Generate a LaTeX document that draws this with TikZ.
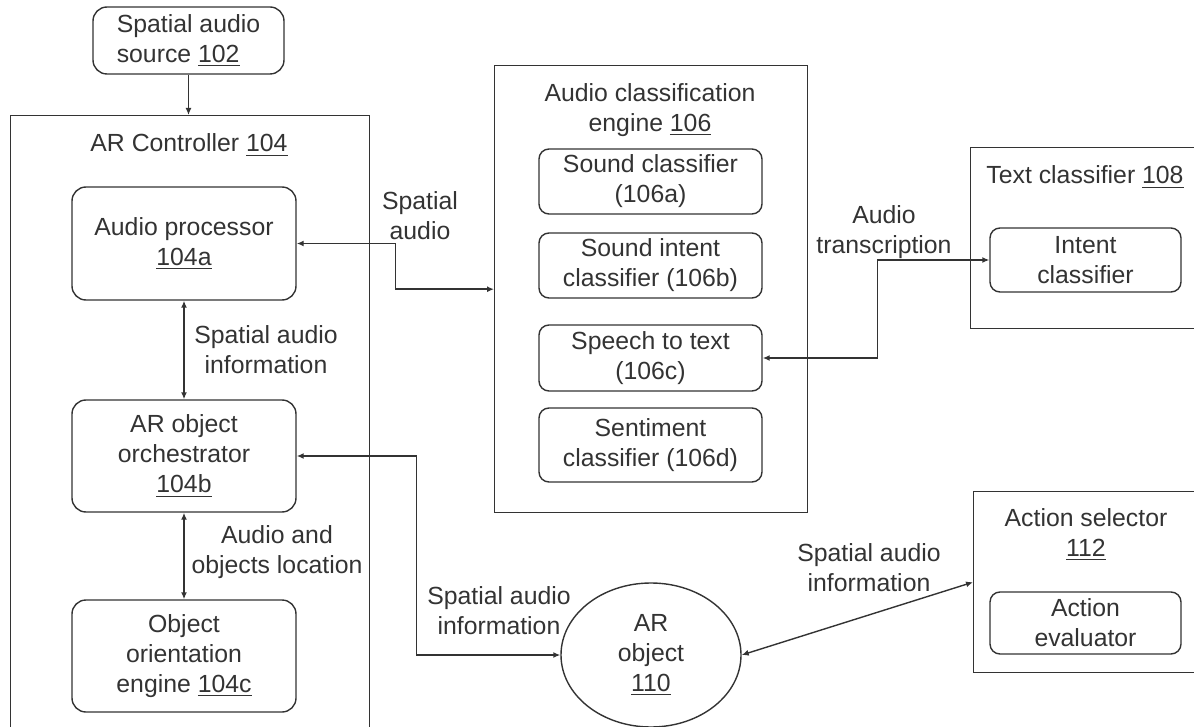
\documentclass[tikz,border=0pt]{standalone}
\usepackage{fontspec}
\setmainfont{Liberation Sans}
\usetikzlibrary{arrows.meta, shapes.geometric, positioning}

\newcommand{\refno}[1]{\underline{#1}}

\begin{document}
\begin{tikzpicture}[x=0.5pt, y=-0.5pt, line width=0.7pt,
  font=\fontsize{12.4}{15}\selectfont, text=black!80,
  block/.style={draw=black!80, rounded corners=7pt, align=center, inner sep=0pt},
  frame/.style={draw=black!80, inner sep=0pt, anchor=north west},
  lbl/.style={align=center, inner sep=0pt},
  link/.style={draw=black!80, {Latex[length=3.5pt,width=3pt]}-{Latex[length=3.5pt,width=3pt]}},
  feed/.style={draw=black!80, -{Latex[length=3.5pt,width=3pt]}}]

  \useasboundingbox (0,0) rectangle (1194,727);
  \clip (0,0) rectangle (1194,727);

  % Source
  \node[block, minimum width=95.5pt, minimum height=33.5pt, align=left] (src) at (188.5,40.5) {Spatial audio\\source \refno{102}};

  % AR controller
  \node[frame, minimum width=179.5pt, minimum height=315pt] (ctrl) at (10,115) {};
  \node[lbl] (ctrltitle) at (189,145) {AR Controller \refno{104}};
  \node[block, minimum width=112pt, minimum height=56.5pt] (proc) at (184,243.5) {Audio processor\\\refno{104a}};
  \node[block, minimum width=112pt, minimum height=56pt] (orch) at (184,456) {AR object\\orchestrator\\\refno{104b}};
  \node[block, minimum width=112pt, minimum height=56pt] (orient) at (184,656) {Object\\orientation\\engine \refno{104c}};

  % Audio classification engine
  \node[frame, minimum width=156.5pt, minimum height=223.5pt] (cls) at (494,65) {};
  \node[lbl] (clstitle) at (650,110) {Audio classification\\engine \refno{106}};
  \node[block, rounded corners=5pt, minimum width=111.5pt, minimum height=32.5pt] (snd) at (650.5,181.5) {Sound classifier\\(106a)};
  \node[block, rounded corners=5pt, minimum width=111.5pt, minimum height=32.5pt] (sint) at (650.5,265.5) {Sound intent\\classifier (106b)};
  \node[block, rounded corners=5pt, minimum width=111.5pt, minimum height=33pt] (stt) at (650.5,358) {Speech to text\\(106c)};
  \node[block, rounded corners=5pt, minimum width=111.5pt, minimum height=37pt] (sent) at (650.5,445) {Sentiment\\classifier (106d)};

  % Text classifier
  \node[frame, minimum width=120pt, minimum height=90.5pt] (txt) at (970,147) {};
  \node[lbl] (txttitle) at (1085,177) {Text classifier \refno{108}};
  \node[block, rounded corners=5pt, minimum width=95.5pt, minimum height=32pt] (intent) at (1085.5,260) {Intent\\classifier};

  % Action selector
  \node[frame, minimum width=118.5pt, minimum height=90.5pt] (act) at (973,491) {};
  \node[lbl] (acttitle) at (1086,535) {Action selector\\\refno{112}};
  \node[block, rounded corners=5pt, minimum width=95.5pt, minimum height=31pt] (eval) at (1085.5,623) {Action\\evaluator};

  % AR object
  \node[ellipse, draw=black!80, align=center, inner sep=0pt, minimum width=90pt, minimum height=72pt] (obj) at (651,655) {AR\\object\\\refno{110}};

  % Connectors
  \draw[feed] (src.south) -- (src.south |- ctrl.north);
  \draw[link] (proc.south) -- (orch.north);
  \draw[link] (orch.south) -- (orient.north);
  \draw[link] (proc.east) -- ++(99,0) |- (cls.west);
  \draw[link] (stt.east) -- ++(115,0) |- (intent.west);
  \draw[link] (orch.east) -- ++(120,0) |- (obj.west);
  \draw[link] (obj.east) -- (act.west);

  % Labels
  \node[lbl] (l1) at (266,350) {Spatial audio\\information};
  \node[lbl] (l2) at (277,552) {Audio and\\objects location};
  \node[lbl] (l3) at (420,216) {Spatial\\audio};
  \node[lbl] (l4) at (884,232) {Audio\\transcription};
  \node[lbl] (l5) at (499,611) {Spatial audio\\information};
  \node[lbl] (l6) at (869,568) {Spatial audio\\information};

\end{tikzpicture}
\end{document}
